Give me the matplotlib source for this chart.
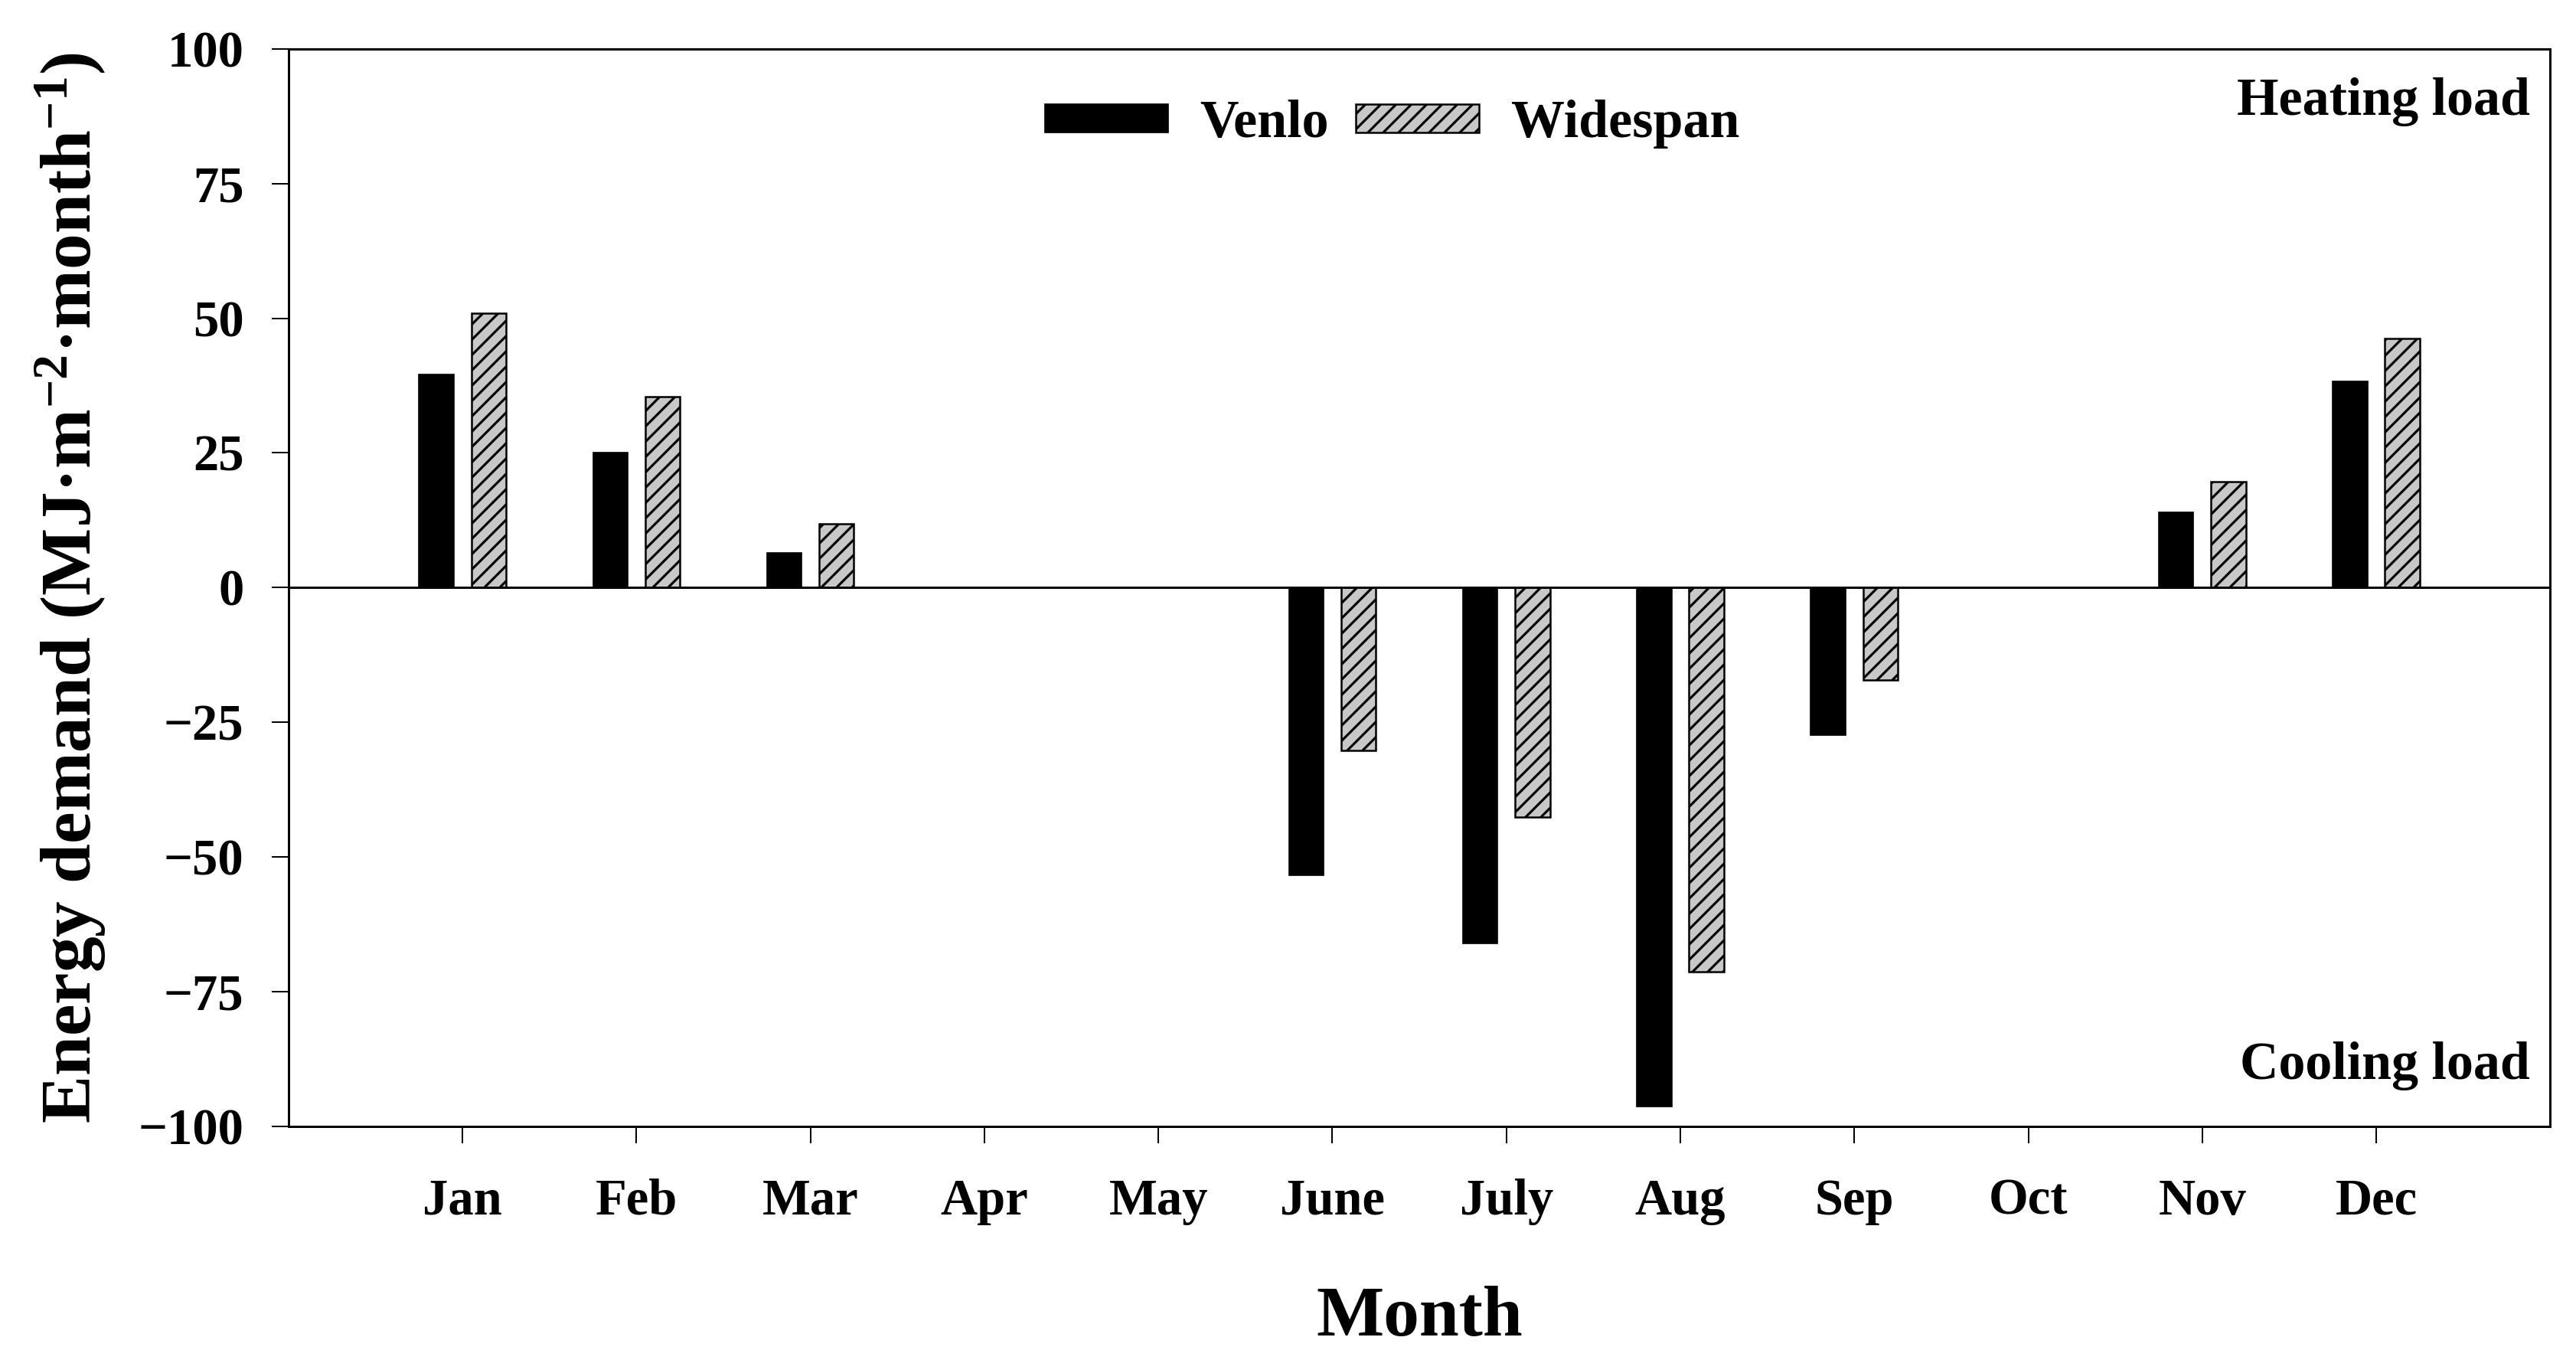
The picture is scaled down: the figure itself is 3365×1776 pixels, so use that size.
import matplotlib
matplotlib.use("Agg")
import matplotlib.pyplot as plt
import numpy as np

months = ["Jan", "Feb", "Mar", "Apr", "May", "June", "July", "Aug", "Sep", "Oct", "Nov", "Dec"]
venlo = [39.6, 25.0, 6.5, 0, 0, -53.4, -66.1, -96.3, -27.4, 0, 13.9, 38.3]
widespan = [50.9, 35.4, 11.9, 0, 0, -30.2, -42.6, -71.4, -17.2, 0, 19.7, 46.3]
yticks = [-100, -75, -50, -25, 0, 25, 50, 75, 100]

plt.rcParams["font.family"] = ["Liberation Serif", "DejaVu Serif"]
plt.rcParams["font.weight"] = "bold"
plt.rcParams["axes.labelweight"] = "bold"
plt.rcParams["mathtext.fontset"] = "custom"
plt.rcParams["mathtext.rm"] = "Liberation Serif:bold"
plt.rcParams["mathtext.default"] = "rm"
plt.rcParams["hatch.linewidth"] = 1.9

DPI = 120
fig = plt.figure(figsize=(3365 / DPI, 1776 / DPI), dpi=DPI)
ax = fig.add_axes([0.112, 0.172, 0.878, 0.792])

x = np.arange(1, len(months) + 1)
w = 0.2
ax.bar(x - 0.15, venlo, w, color="black", edgecolor="black", linewidth=1.0, label="Venlo")
ax.bar(x + 0.15, widespan, w, color="#c8c8c8", edgecolor="black", linewidth=1.5,
       hatch="//", label="Widespan")
ax.axhline(0, color="black", linewidth=1.8)

ax.set_xlim(0, 13)
ax.set_ylim(-100, 100)
ax.set_xticks(x)
ax.set_xticklabels(months)
ax.set_yticks(yticks)
ax.tick_params(direction="out", length=13, width=1.2, pad=22, labelsize=40)
ax.tick_params(axis="x", pad=28)
for s in ax.spines.values():
    s.set_linewidth(1.8)

ax.set_ylabel("Energy demand (MJ·m$^{-2}$·month$^{-1}$)", fontsize=56)
ax.yaxis.set_label_coords(-0.080, 0.5)
ax.set_xlabel("Month", fontsize=56)
ax.xaxis.set_label_coords(0.5, -0.148)

ax.text(0.991, 0.939, "Heating load", transform=ax.transAxes, ha="right",
        va="baseline", fontsize=42)
ax.text(0.991, 0.044, "Cooling load", transform=ax.transAxes, ha="right",
        va="baseline", fontsize=42)

ax.legend(loc="center", bbox_to_anchor=(0.488, 0.930), ncol=2, frameon=False,
          fontsize=42, handlelength=2.3, handleheight=0.43, handletextpad=0.6,
          columnspacing=0.5)

fig.savefig("out.png", dpi=DPI)
